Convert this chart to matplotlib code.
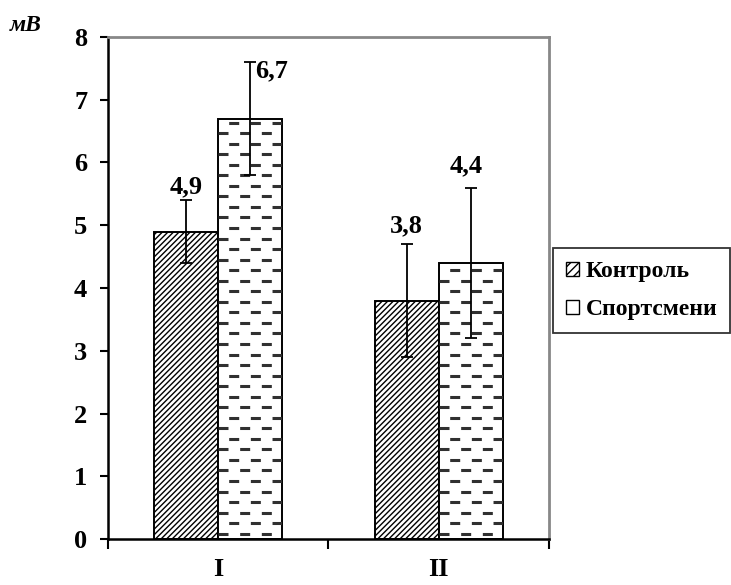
import numpy as np
import matplotlib
matplotlib.use('Agg')
import matplotlib.pyplot as plt
from matplotlib.patches import Patch

plt.rcParams['font.family'] = 'Liberation Serif'
plt.rcParams['font.weight'] = 'bold'
plt.rcParams['hatch.color'] = '#606060'
plt.rcParams['hatch.linewidth'] = 1.0
plt.rcParams['lines.scale_dashes'] = False

groups = ['I', 'II']
control = [4.9, 3.8]
control_err = [0.5, 0.9]
sport = [6.7, 4.4]
sport_err = [0.9, 1.2]
y_ticks = [0, 1, 2, 3, 4, 5, 6, 7, 8]

# offsets (points) of the value labels from the top of each error bar
control_label_offsets = [(0, 9.5), (0, 13.5)]
sport_label_offsets = [(15.5, -6.5), (-3, 16)]

fig = plt.figure(figsize=(7.31, 5.85), dpi=100)
ax = fig.add_axes([0.1477, 0.0786, 0.6033, 0.8582])

x = np.arange(len(groups))
width = 0.29

bars_c = ax.bar(x - width / 2, control, width, facecolor='white', edgecolor='black',
                linewidth=1.4, hatch='//////', zorder=2)
bars_s = ax.bar(x + width / 2, sport, width, facecolor='white', edgecolor='black',
                linewidth=1.4, zorder=2)

# dashed texture inside the sportsmen bars, every other row shifted by half a period
step = 0.168
for bar in bars_s:
    x0, x1 = bar.get_x(), bar.get_x() + bar.get_width()
    for i, yy in enumerate(np.arange(step / 2, bar.get_height(), step)):
        off = 0 if i % 2 == 0 else 7.9
        ln, = ax.plot([x0, x1], [yy, yy], color='#303030', lw=2.2,
                      linestyle=(off, (7.2, 8.4)), dash_capstyle='butt', zorder=2.5)
        ln.set_clip_path(bar)

ax.errorbar(x - width / 2, control, yerr=control_err, fmt='none', ecolor='black',
            elinewidth=1.3, capsize=4.5, capthick=1.3, zorder=3)
ax.errorbar(x + width / 2, sport, yerr=sport_err, fmt='none', ecolor='black',
            elinewidth=1.3, capsize=4.5, capthick=1.3, zorder=3)

for xs, vals, errs, offs in [(x - width / 2, control, control_err, control_label_offsets),
                             (x + width / 2, sport, sport_err, sport_label_offsets)]:
    for xi, v, e, o in zip(xs, vals, errs, offs):
        ax.annotate(f'{v:.1f}'.replace('.', ','), (xi, v + e), xytext=o,
                    textcoords='offset points', ha='center', va='center',
                    fontsize=19, fontweight='bold')

ax.set_xlim(-0.5, 1.5)
ax.set_ylim(0, 8)
ax.set_yticks(y_ticks)
ax.set_yticklabels([str(t) for t in y_ticks], fontsize=19, fontweight='bold')
ax.tick_params(axis='y', direction='out', length=6, width=1.5, pad=9)

ax.set_xticks([-0.5, 0.5, 1.5])
ax.set_xticklabels([])
ax.set_xticks(x, minor=True)
ax.set_xticklabels(groups, minor=True, fontsize=19, fontweight='bold')
ax.tick_params(axis='x', which='major', direction='out', length=7, width=1.5)
ax.tick_params(axis='x', which='minor', length=0, pad=14)

for side in ['left', 'bottom']:
    ax.spines[side].set_linewidth(1.8)
    ax.spines[side].set_color('black')
for side in ['top', 'right']:
    ax.spines[side].set_linewidth(2)
    ax.spines[side].set_color('#888888')

fig.text(0.014, 0.957, 'мВ', fontsize=17, fontweight='bold', style='italic', va='center')

handles = [Patch(facecolor='white', edgecolor='black', hatch='////', label='Контроль'),
           Patch(facecolor='white', edgecolor='black', label='Спортсмени')]
leg = fig.legend(handles=handles, loc='center left', bbox_to_anchor=(0.756, 0.503),
                 fontsize=17, frameon=True, fancybox=False, edgecolor='black',
                 handlelength=0.55, handleheight=0.55, handletextpad=0.3,
                 labelspacing=0.7, borderpad=0.55, borderaxespad=0)
leg.get_frame().set_linewidth(1.3)

fig.savefig('out.png', dpi=100)
